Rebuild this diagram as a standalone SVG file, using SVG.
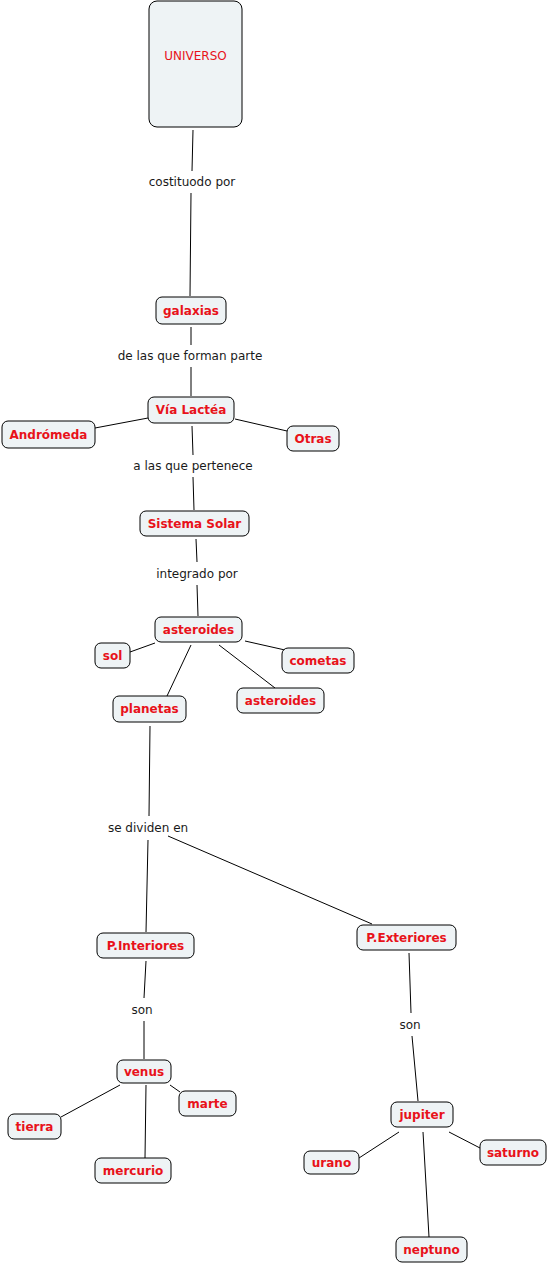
<svg xmlns="http://www.w3.org/2000/svg" width="549" height="1266" viewBox="0 0 549 1266">
<style>
.n{fill:#eef3f5;stroke:#000;stroke-width:1}
.t{font-family:"DejaVu Sans",Verdana,sans-serif;font-size:12px;font-weight:bold;fill:#e8121a;text-anchor:middle;dominant-baseline:central}
.l{font-family:"DejaVu Sans",Verdana,sans-serif;font-size:12px;fill:#1a1a1a;text-anchor:middle;dominant-baseline:central}
.c line{stroke:#000;stroke-width:1}
</style>
<rect width="549" height="1266" fill="#fff"/>
<g class="c" id="connectors">
<line x1="193" y1="130" x2="192" y2="171"/><line x1="191" y1="193" x2="190" y2="296"/>
<line x1="191" y1="327" x2="191" y2="345"/><line x1="191" y1="367" x2="191" y2="396"/>
<line x1="148" y1="418" x2="95" y2="428"/>
<line x1="235" y1="419" x2="287" y2="431"/>
<line x1="192" y1="426" x2="193" y2="455"/><line x1="193" y1="477" x2="194" y2="510"/>
<line x1="196" y1="539" x2="197" y2="562"/><line x1="197" y1="585" x2="198" y2="616"/>
<line x1="155" y1="643" x2="130" y2="652"/>
<line x1="245" y1="641" x2="285" y2="650"/>
<line x1="219" y1="645" x2="275" y2="688"/>
<line x1="191" y1="645" x2="167" y2="696"/>
<line x1="150" y1="726" x2="149" y2="816"/><line x1="148" y1="840" x2="146" y2="932"/>
<line x1="168" y1="836" x2="372" y2="924"/>
<line x1="146" y1="961" x2="144" y2="998"/><line x1="144" y1="1021" x2="144" y2="1059"/>
<line x1="409" y1="953" x2="411" y2="1013"/><line x1="412" y1="1036" x2="418" y2="1101"/>
<line x1="120" y1="1085" x2="61" y2="1117"/>
<line x1="170" y1="1085" x2="180" y2="1092"/>
<line x1="146" y1="1085" x2="145" y2="1158"/>
<line x1="399" y1="1132" x2="359" y2="1158"/>
<line x1="449" y1="1132" x2="480" y2="1148"/>
<line x1="423" y1="1132" x2="429" y2="1237"/>
</g>
<g id="labels">
<text class="l" x="192" y="182">costituodo por</text>
<text class="l" x="190" y="356">de las que forman parte</text>
<text class="l" x="193" y="466">a las que pertenece</text>
<text class="l" x="197" y="574">integrado por</text>
<text class="l" x="148" y="828">se dividen en</text>
<text class="l" x="142" y="1010">son</text>
<text class="l" x="410" y="1025">son</text>
</g>
<g id="universo"><rect class="n" x="149" y="1" width="93" height="126" rx="8"/><text class="t" x="195.5" y="56" style="font-weight:normal">UNIVERSO</text></g>
<g id="galaxias"><rect class="n" x="156" y="297" width="70" height="27" rx="6"/><text class="t" x="191" y="310.5">galaxias</text></g>
<g id="via-lactea"><rect class="n" x="148" y="397" width="86" height="26" rx="6"/><text class="t" x="191" y="410">Vía Lactéa</text></g>
<g id="andromeda"><rect class="n" x="2" y="421" width="93" height="27" rx="6"/><text class="t" x="48.5" y="434.5">Andrómeda</text></g>
<g id="otras"><rect class="n" x="287" y="426" width="52" height="25" rx="6"/><text class="t" x="313" y="438.5">Otras</text></g>
<g id="sistema-solar"><rect class="n" x="140" y="511" width="109" height="25" rx="6"/><text class="t" x="194.5" y="523.5">Sistema Solar</text></g>
<g id="asteroides"><rect class="n" x="155" y="617" width="87" height="25" rx="6"/><text class="t" x="198.5" y="629.5">asteroides</text></g>
<g id="sol"><rect class="n" x="95" y="643" width="35" height="25" rx="6"/><text class="t" x="112.5" y="655.5">sol</text></g>
<g id="cometas"><rect class="n" x="282" y="648" width="72" height="25" rx="6"/><text class="t" x="318" y="660.5">cometas</text></g>
<g id="asteroides2"><rect class="n" x="237" y="688" width="87" height="25" rx="6"/><text class="t" x="280.5" y="700.5">asteroides</text></g>
<g id="planetas"><rect class="n" x="113" y="696" width="73" height="26" rx="6"/><text class="t" x="149.5" y="709">planetas</text></g>
<g id="p-interiores"><rect class="n" x="97" y="933" width="97" height="25" rx="6"/><text class="t" x="145.5" y="945.5">P.Interiores</text></g>
<g id="p-exteriores"><rect class="n" x="357" y="925" width="99" height="25" rx="6"/><text class="t" x="406.5" y="937.5">P.Exteriores</text></g>
<g id="venus"><rect class="n" x="117" y="1060" width="54" height="23" rx="6"/><text class="t" x="144" y="1071.5">venus</text></g>
<g id="marte"><rect class="n" x="179" y="1091" width="57" height="25" rx="6"/><text class="t" x="207.5" y="1103.5">marte</text></g>
<g id="tierra"><rect class="n" x="8" y="1114" width="53" height="25" rx="6"/><text class="t" x="34.5" y="1126.5">tierra</text></g>
<g id="mercurio"><rect class="n" x="95" y="1158" width="76" height="25" rx="6"/><text class="t" x="133" y="1170.5">mercurio</text></g>
<g id="jupiter"><rect class="n" x="391" y="1102" width="62" height="25" rx="6"/><text class="t" x="422" y="1114.5">jupiter</text></g>
<g id="urano"><rect class="n" x="304" y="1151" width="55" height="23" rx="6"/><text class="t" x="331.5" y="1162.5">urano</text></g>
<g id="saturno"><rect class="n" x="480" y="1140" width="66" height="25" rx="6"/><text class="t" x="513" y="1152.5">saturno</text></g>
<g id="neptuno"><rect class="n" x="396" y="1237" width="71" height="25" rx="6"/><text class="t" x="431.5" y="1249.5">neptuno</text></g>
</svg>
